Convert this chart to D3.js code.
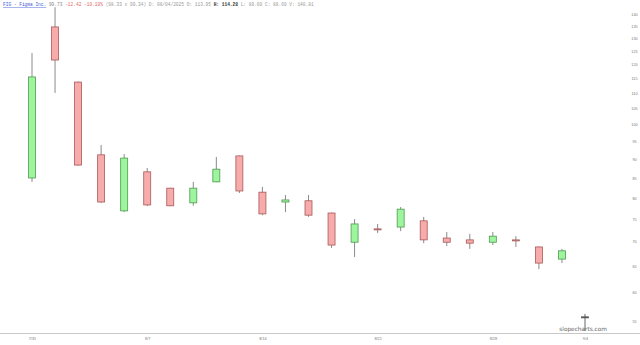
<!DOCTYPE html>
<html lang="en">
<head>
    <meta charset="UTF-8">
    <title>FIG - Figma Inc.</title>
    <script src="https://d3js.org/d3.v7.min.js"></script>
    <style>
        body { margin: 0; background: #fff; }
        svg { display: block; }
    </style>
</head>
<body>
    <svg id="chart"></svg>

    <script>
        // daily bars
        const dates  = ["7/31","8/1","8/4","8/5","8/6","8/7","8/8","8/11","8/12","8/13","8/14","8/15","8/18",
                        "8/19","8/20","8/21","8/22","8/25","8/26","8/27","8/28","8/29","9/2","9/3","9/4"];
        const opens  = [85.0, 134.6, 113.8, 91.2, 76.9, 86.6, 82.4, 78.8, 84.0, 90.9, 81.4, 79.0, 79.3,
                        76.4, 69.9, 72.8, 73.2, 74.6, 70.8, 70.4, 69.9, 70.4, 68.9, 66.4, 55.7];
        const highs  = [124.3, 142.9, 114.0, 94.0, 91.4, 87.6, 82.5, 84.0, 90.6, 91.0, 82.7, 80.7, 80.7,
                        76.5, 75.0, 73.9, 77.8, 75.5, 72.1, 71.7, 72.1, 71.2, 69.0, 68.5, 56.2];
        const lows   = [84.0, 110.1, 88.2, 78.8, 76.6, 78.0, 78.0, 78.1, 83.9, 81.2, 75.9, 76.6, 75.5,
                        68.7, 66.8, 71.9, 72.3, 69.7, 69.1, 68.5, 69.3, 68.9, 64.4, 65.6, 53.4];
        const closes = [115.6, 121.7, 88.4, 79.0, 90.3, 78.3, 78.1, 82.4, 87.3, 81.7, 76.2, 79.5, 75.9,
                        69.3, 73.9, 72.7, 77.3, 70.4, 69.9, 69.7, 71.2, 70.35, 65.6, 68.1, 55.7];

        const priceTicks = [55, 60, 65, 70, 75, 80, 85, 90, 95, 100, 105, 110, 115, 120, 125, 130, 135, 140];
        const dateTicks = ["7/31", "8/7", "8/14", "8/21", "8/28", "9/4"];

        const width = 640;
        const height = 345;

        const svg = d3.select("#chart")
            .attr("width", width)
            .attr("height", height)
            .attr("viewBox", [0, 0, width, height]);

        const x = d3.scalePoint().domain(dates).range([32, 585]);
        const y = d3.scaleLog().domain([55, 140]).range([321, 14]);

        const bars = dates.map((d, i) => ({date: d, o: opens[i], h: highs[i], l: lows[i], c: closes[i]}));

        // header line
        const head = svg.append("text")
            .attr("x", 3)
            .attr("y", 6)
            .attr("font-family", "Liberation Mono, DejaVu Sans Mono, monospace")
            .attr("font-size", 4.5)
            .attr("fill", "#999");
        head.append("tspan").attr("fill", "#3b5bd6").attr("text-decoration", "underline").text("FIG - Figma Inc.");
        head.append("tspan").attr("fill", "#888").text(" 99.73 ");
        head.append("tspan").attr("fill", "#e06666").text("-12.42 -10.10%");
        head.append("tspan").text(" (98.33 x 99.34) D: 08/04/2025 O: 113.95 ");
        head.append("tspan").attr("fill", "#333").attr("font-weight", "bold").text("H: 114.28");
        head.append("tspan").text(" L: 88.60 C: 88.60 V: 140.81");

        // x axis
        svg.append("line")
            .attr("x1", 0).attr("x2", width)
            .attr("y1", 333.5).attr("y2", 333.5)
            .attr("stroke", "#c8c8c8");

        svg.append("g")
            .attr("transform", "translate(0,335)")
            .call(d3.axisBottom(x).tickValues(dateTicks).tickSize(0).tickPadding(2))
            .call(g => g.select(".domain").remove())
            .call(g => g.selectAll("text")
                .attr("font-family", "Liberation Sans, sans-serif")
                .attr("font-size", 3.8)
                .attr("fill", "#777"));

        // y axis on the right
        svg.append("g")
            .attr("transform", "translate(634.5,0)")
            .call(d3.axisRight(y).tickValues(priceTicks).tickFormat(d3.format("d")).tickSize(0).tickPadding(0))
            .call(g => g.select(".domain").remove())
            .call(g => g.selectAll("text")
                .attr("text-anchor", "middle")
                .attr("font-family", "Liberation Sans, sans-serif")
                .attr("font-size", 3.8)
                .attr("fill", "#777"));

        // candles
        const candle = svg.append("g")
            .selectAll("g")
            .data(bars)
            .join("g")
            .attr("transform", d => `translate(${x(d.date)},0)`);

        candle.append("line")
            .attr("y1", d => y(d.h))
            .attr("y2", d => y(d.l))
            .attr("stroke", d => d.o === d.c ? "#666" : "#8a8a8a")
            .attr("stroke-width", 1);

        const bw = 7;
        candle.append("rect")
            .attr("x", -bw / 2)
            .attr("width", bw)
            .attr("y", d => y(Math.max(d.o, d.c)))
            .attr("height", d => Math.max(1, Math.abs(y(d.o) - y(d.c))))
            .attr("fill", d => d.o === d.c ? "#555" : d.c > d.o ? "#9df59d" : "#f7abab")
            .attr("stroke", d => d.o === d.c ? "#555" : d.c > d.o ? "#4f9a4f" : "#a85a5a")
            .attr("stroke-width", 0.8);

        // watermark
        svg.append("text")
            .attr("x", 607)
            .attr("y", 331)
            .attr("text-anchor", "end")
            .attr("font-family", "DejaVu Sans, sans-serif")
            .attr("font-size", 5.8)
            .attr("fill", "#666")
            .text("slopecharts.com");
    </script>
</body>
</html>
